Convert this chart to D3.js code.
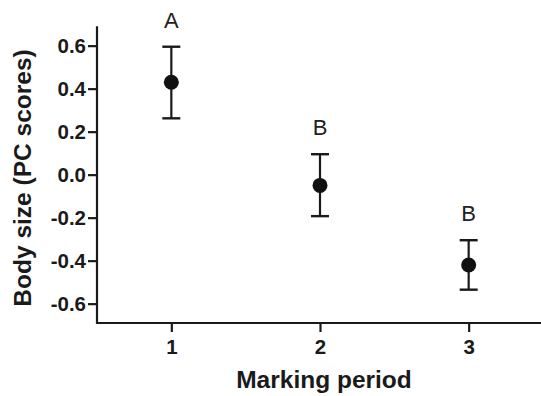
<!DOCTYPE html>
<html><head><meta charset="utf-8">
<script src="https://cdn.jsdelivr.net/npm/d3@7"></script>
<style>body{margin:0;background:#fff}svg{display:block}</style>
</head><body>
<svg id="c" width="541" height="396"></svg>
<script>
const periods = [1, 2, 3];
const means = [0.43, -0.05, -0.42];
const upper = [0.595, 0.095, -0.305];
const lower = [0.262, -0.193, -0.535];
const letters = ["A", "B", "B"];
const yTicks = [-0.6, -0.4, -0.2, 0.0, 0.2, 0.4, 0.6];
const xTicks = [1, 2, 3];

const svg = d3.select("#c");
const ink = "#1a1a1a";
const x = d3.scaleLinear().domain([0.5, 3.5]).range([97, 543]);
const y = d3.scaleLinear().domain([-0.69, 0.69]).range([323, 26.3]);

const fontB = "'Liberation Sans', Arial, sans-serif";

// axes
const yAxis = svg.append("g").attr("transform", "translate(97,0)")
  .call(d3.axisLeft(y).tickValues(yTicks).tickFormat(d3.format(".1f")).tickSize(9).tickSizeOuter(0).tickPadding(2));
const xAxis = svg.append("g").attr("transform", "translate(0,323)")
  .call(d3.axisBottom(x).tickValues(xTicks).tickFormat(d3.format("d")).tickSize(9).tickSizeOuter(0).tickPadding(7));
[yAxis, xAxis].forEach(a => {
  a.select(".domain").attr("stroke", ink).attr("stroke-width", 2.2);
  a.selectAll(".tick line").attr("stroke", ink).attr("stroke-width", 2.2);
  a.selectAll("text").attr("fill", ink).attr("font-family", fontB)
    .attr("font-weight", "bold").attr("font-size", 20.5);
});
xAxis.select(".domain").attr("d", "M97,0H541");
yAxis.select(".domain").attr("d", "M0," + y.range()[1] + "V" + (y.range()[0] + 1));
yAxis.selectAll(".tick text").text(d => d3.format(".1f")(d).replace("−", "-"));

// error bars
const g = svg.append("g");
const data = periods.map((p, i) => ({p, m: means[i], u: upper[i], l: lower[i], t: letters[i]}));
g.selectAll("line.v").data(data).join("line")
  .attr("x1", d => x(d.p)).attr("x2", d => x(d.p))
  .attr("y1", d => y(d.u)).attr("y2", d => y(d.l))
  .attr("stroke", ink).attr("stroke-width", 2.2);
g.selectAll("line.cu").data(data).join("line")
  .attr("x1", d => x(d.p) - 9).attr("x2", d => x(d.p) + 9)
  .attr("y1", d => y(d.u)).attr("y2", d => y(d.u))
  .attr("stroke", ink).attr("stroke-width", 2.4);
g.selectAll("line.cl").data(data).join("line")
  .attr("x1", d => x(d.p) - 9).attr("x2", d => x(d.p) + 9)
  .attr("y1", d => y(d.l)).attr("y2", d => y(d.l))
  .attr("stroke", ink).attr("stroke-width", 2.4);
g.selectAll("circle").data(data).join("circle")
  .attr("cx", d => x(d.p)).attr("cy", d => y(d.m)).attr("r", 7.5)
  .attr("fill", "#111");
g.selectAll("text").data(data).join("text")
  .attr("x", d => x(d.p)).attr("y", d => y(d.u) - 19)
  .attr("text-anchor", "middle").attr("font-family", fontB)
  .attr("font-size", 22).attr("fill", "#222").text(d => d.t);

// titles
svg.append("text").attr("x", 324).attr("y", 388).attr("text-anchor", "middle")
  .attr("font-family", fontB).attr("font-weight", "bold").attr("font-size", 24.5)
  .attr("fill", ink).text("Marking period");
svg.append("text").attr("transform", "translate(31,178) rotate(-90)").attr("text-anchor", "middle")
  .attr("font-family", fontB).attr("font-weight", "bold").attr("font-size", 24.5)
  .attr("fill", ink).text("Body size (PC scores)");
</script>
</body></html>
